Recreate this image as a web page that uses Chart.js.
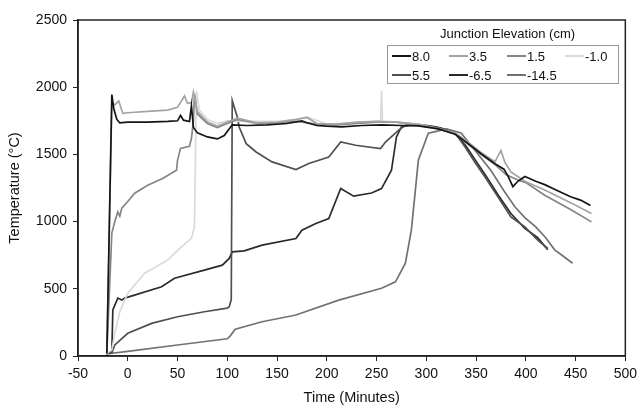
<!DOCTYPE html>
<html>
<head>
<meta charset="utf-8">
<script src="https://cdn.jsdelivr.net/npm/chart.js@4/dist/chart.umd.min.js"></script>
<style>
  html, body { margin: 0; padding: 0; background: #fff; }
  #wrap { width: 642px; height: 410px; }
</style>
</head>
<body>
<div id="wrap"><canvas id="chart" width="642" height="410"></canvas></div>
<script>
// time (minutes) and temperature (C), one pair per junction
const t80 = [-21, -16, -14, -11, -8, 0, 20, 40, 50, 53, 56, 62, 64, 66, 70, 80, 90, 97, 105, 120, 140, 160, 175, 180, 190, 200, 215, 235, 255, 275, 292, 312, 329, 342, 355, 369, 378, 382, 387, 392, 399, 410, 419, 432, 445, 455, 465];
const y80 = [20, 1945, 1840, 1760, 1735, 1740, 1740, 1745, 1750, 1790, 1755, 1745, 1860, 1700, 1660, 1630, 1615, 1640, 1720, 1715, 1720, 1730, 1750, 1735, 1715, 1710, 1705, 1715, 1720, 1715, 1712, 1690, 1650, 1580, 1505, 1430, 1390, 1340, 1260, 1300, 1335, 1300, 1275, 1230, 1185, 1160, 1120];

const t35 = [-21, -16, -13, -9, -5, 0, 20, 40, 50, 57, 60, 64, 66, 70, 80, 90, 100, 110, 130, 150, 170, 180, 190, 210, 230, 250, 270, 290, 310, 329, 342, 355, 369, 375, 379, 385, 399, 419, 445, 466];
const y35 = [20, 1880, 1870, 1897, 1805, 1810, 1820, 1830, 1850, 1935, 1880, 1885, 1965, 1820, 1740, 1710, 1740, 1770, 1735, 1740, 1760, 1775, 1730, 1725, 1740, 1745, 1740, 1725, 1695, 1660, 1590, 1515, 1445, 1530, 1440, 1370, 1300, 1235, 1140, 1060];

const t15 = [-21, -16, -13, -10, -8, -6, 0, 7, 20, 35, 49, 50, 53, 62, 64, 66, 67, 70, 80, 90, 100, 110, 130, 150, 170, 190, 210, 230, 250, 270, 290, 310, 329, 342, 355, 369, 380, 392, 400, 419, 445, 466];
const y15 = [20, 914, 1000, 1072, 1040, 1100, 1150, 1211, 1270, 1320, 1382, 1456, 1545, 1560, 1620, 1750, 1950, 1800, 1730, 1700, 1730, 1760, 1730, 1735, 1745, 1725, 1720, 1730, 1740, 1740, 1720, 1695, 1655, 1575, 1500, 1425, 1350, 1310, 1290, 1196, 1090, 998];

const tm10 = [-21, -16, -13, -8, 0, 17, 40, 54, 64, 67, 68, 69, 72, 80, 90, 100, 120, 150, 170, 180, 200, 230, 250, 254, 255, 256, 260, 280, 300];
const ym10 = [20, 45, 171, 330, 468, 616, 713, 812, 877, 961, 1456, 1970, 1830, 1760, 1730, 1750, 1745, 1745, 1760, 1780, 1725, 1735, 1745, 1750, 1976, 1740, 1745, 1735, 1715];

const t55 = [-21, -16, -13, 0, 24, 50, 77, 100, 102, 104, 105, 110, 112, 119, 129, 145, 169, 182, 202, 214, 229, 254, 259, 272, 279, 290, 310, 329, 339, 349, 359, 372, 385, 399, 412, 422];
const y55 = [20, 22, 82, 169, 243, 292, 329, 356, 366, 420, 1900, 1780, 1704, 1580, 1518, 1444, 1387, 1432, 1481, 1592, 1568, 1543, 1592, 1679, 1716, 1725, 1705, 1660, 1555, 1440, 1332, 1184, 1035, 961, 862, 800];

const tm65 = [-21, -16, -15, -10, -6, -3, 34, 47, 77, 95, 102, 105, 117, 135, 169, 175, 189, 202, 214, 227, 245, 255, 265, 270, 275, 282, 295, 315, 330, 340, 350, 360, 372, 385, 399, 412, 422];
const ym65 = [20, 30, 342, 431, 416, 431, 515, 579, 639, 676, 726, 775, 782, 825, 874, 936, 986, 1023, 1246, 1189, 1213, 1246, 1382, 1630, 1704, 1715, 1720, 1695, 1650, 1560, 1450, 1340, 1200, 1060, 950, 880, 790];

const tm145 = [-22, 0, 50, 100, 103, 108, 135, 169, 212, 255, 269, 279, 285, 290, 292, 302, 309, 320, 335, 350, 365, 378, 389, 399, 410, 420, 429, 438, 447];
const ym145 = [15, 35, 82, 128, 150, 200, 255, 305, 416, 504, 552, 690, 936, 1307, 1456, 1657, 1670, 1690, 1660, 1520, 1380, 1230, 1110, 1030, 960, 880, 790, 740, 690];

const labels = ["8.0", "3.5", "1.5", "-1.0", "5.5", "-6.5", "-14.5"];
const colors = ["#151515", "#a3a3a3", "#858585", "#dadada", "#505050", "#2b2b2b", "#727272"];
const xs = [t80, t35, t15, tm10, t55, tm65, tm145];
const ys = [y80, y35, y15, ym10, y55, ym65, ym145];

const FONT = "'Liberation Sans', Arial, sans-serif";

const toPoints = (tx, ty) => tx.map((t, i) => ({x: t, y: ty[i]}));

const datasets = labels.map((lab, i) => ({
    label: lab,
    data: toPoints(xs[i], ys[i]),
    borderColor: colors[i],
    backgroundColor: colors[i],
    borderWidth: 1.7,
    pointRadius: 0,
    tension: 0,
    fill: false
}));

// frame round the plot area plus the boxed legend with its title
const framePlugin = {
    id: "frame",
    afterDraw(chart) {
        const c = chart.ctx;
        const a = chart.chartArea;
        c.save();
        c.strokeStyle = "#222";
        c.lineWidth = 1.5;
        c.strokeRect(a.left, a.top, a.right - a.left, a.bottom - a.top);

        c.font = "13px " + FONT;
        c.fillStyle = "#111";
        c.textBaseline = "middle";
        c.textAlign = "left";
        c.fillText("Junction Elevation (cm)", 440, 34);

        c.strokeStyle = "#999";
        c.lineWidth = 1;
        c.strokeRect(387.5, 45.5, 231, 38);

        const colX = [392, 449, 507, 565];
        const rowY = [56, 75];
        chart.data.datasets.forEach((ds, i) => {
            const x = colX[i % 4];
            const y = rowY[Math.floor(i / 4)];
            c.strokeStyle = ds.borderColor;
            c.lineWidth = 2;
            c.beginPath();
            c.moveTo(x, y);
            c.lineTo(x + 19, y);
            c.stroke();
            c.fillStyle = "#111";
            c.fillText(ds.label, x + 20, y + 1);
        });
        c.restore();
    }
};

new Chart(document.getElementById("chart"), {
    type: "line",
    data: {datasets: datasets},
    options: {
        responsive: false,
        animation: false,
        layout: {padding: {left: 0, right: 14, top: 20, bottom: 0}},
        plugins: {
            legend: {display: false},
            tooltip: {enabled: false}
        },
        scales: {
            x: {
                type: "linear",
                min: -50,
                max: 500,
                grid: {display: true, drawOnChartArea: false, color: "#222", tickLength: 5},
                border: {color: "#222", width: 1.5},
                ticks: {stepSize: 50, color: "#111", font: {family: FONT, size: 14}, padding: 5, maxRotation: 0,
                        callback: v => String(v)},
                title: {display: true, text: "Time (Minutes)", color: "#111", font: {family: FONT, size: 14.5}, padding: {top: 3, bottom: 3}},
                afterFit(scale) { scale.height = 54; }
            },
            y: {
                min: 0,
                max: 2500,
                grid: {display: true, drawOnChartArea: false, color: "#222", tickLength: 5},
                border: {color: "#222", width: 1.5},
                ticks: {stepSize: 500, color: "#111", font: {family: FONT, size: 14}, padding: 6,
                        callback: v => String(v)},
                title: {display: true, text: "Temperature (°C)", color: "#111", font: {family: FONT, size: 14.5}, padding: {top: 6, bottom: 4}},
                afterFit(scale) { scale.width = 78; }
            }
        }
    },
    plugins: [framePlugin]
});
</script>
</body>
</html>
